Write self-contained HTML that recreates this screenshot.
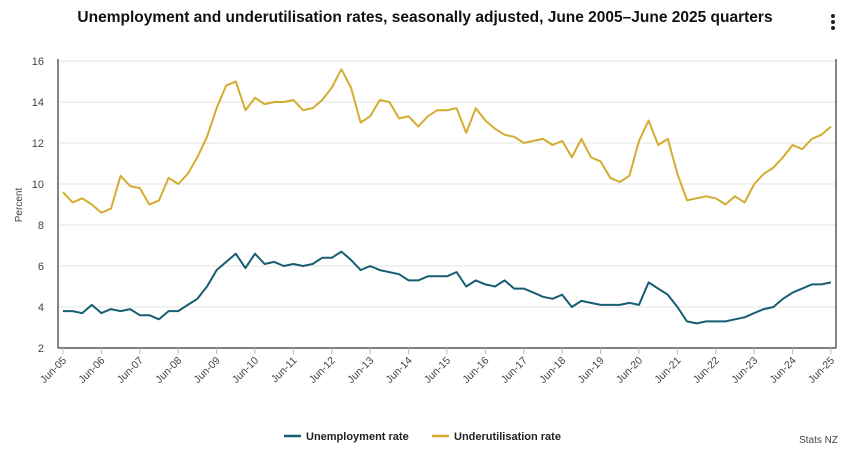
<!DOCTYPE html>
<html><head><meta charset="utf-8"><style>
body{margin:0;width:847px;height:450px;background:#fff;font-family:"Liberation Sans",sans-serif;overflow:hidden}
svg{display:block}
</style></head><body>
<svg id="c" width="847" height="450">
<text x="425" y="22" text-anchor="middle" font-size="15.5" font-weight="bold" fill="#111">Unemployment and underutilisation rates, seasonally adjusted, June 2005–June 2025 quarters</text>
<g><circle cx="833" cy="16" r="2" fill="#222"/><circle cx="833" cy="22" r="2" fill="#222"/><circle cx="833" cy="28" r="2" fill="#222"/></g>
<text transform="translate(22,205) rotate(-90)" text-anchor="middle" font-size="10" fill="#444">Percent</text>
<text x="838" y="443" text-anchor="end" font-size="10" fill="#444">Stats NZ</text>
<g id="plot"></g>
</svg>
<script>
const yTicks=[2,4,6,8,10,12,14,16];
const xLabels=["Jun-05","Jun-06","Jun-07","Jun-08","Jun-09","Jun-10","Jun-11","Jun-12","Jun-13","Jun-14","Jun-15","Jun-16","Jun-17","Jun-18","Jun-19","Jun-20","Jun-21","Jun-22","Jun-23","Jun-24","Jun-25"];
const unemployment=[3.8,3.8,3.7,4.1,3.7,3.9,3.8,3.9,3.6,3.6,3.4,3.8,3.8,4.1,4.4,5.0,5.8,6.2,6.6,5.9,6.6,6.1,6.2,6.0,6.1,6.0,6.1,6.4,6.4,6.7,6.3,5.8,6.0,5.8,5.7,5.6,5.3,5.3,5.5,5.5,5.5,5.7,5.0,5.3,5.1,5.0,5.3,4.9,4.9,4.7,4.5,4.4,4.6,4.0,4.3,4.2,4.1,4.1,4.1,4.2,4.1,5.2,4.9,4.6,4.0,3.3,3.2,3.3,3.3,3.3,3.4,3.5,3.7,3.9,4.0,4.4,4.7,4.9,5.1,5.1,5.2];
const underutilisation=[9.6,9.1,9.3,9.0,8.6,8.8,10.4,9.9,9.8,9.0,9.2,10.3,10.0,10.5,11.3,12.3,13.7,14.8,15.0,13.6,14.2,13.9,14.0,14.0,14.1,13.6,13.7,14.1,14.7,15.6,14.7,13.0,13.3,14.1,14.0,13.2,13.3,12.8,13.3,13.6,13.6,13.7,12.5,13.7,13.1,12.7,12.4,12.3,12.0,12.1,12.2,11.9,12.1,11.3,12.2,11.3,11.1,10.3,10.1,10.4,12.1,13.1,11.9,12.2,10.5,9.2,9.3,9.4,9.3,9.0,9.4,9.1,10.0,10.5,10.8,11.3,11.9,11.7,12.2,12.4,12.8];
const NS="http://www.w3.org/2000/svg";
const L=58,R=836,T=61,B=348,X0=63,X1=831;
const nQ=unemployment.length-1;
const x=i=>X0+(X1-X0)*i/nQ;
const y=v=>B-(v-2)/(16-2)*(B-T);
const g=document.getElementById('plot');
function mk(t,a){const e=document.createElementNS(NS,t);for(const k in a)e.setAttribute(k,a[k]);g.appendChild(e);return e;}
yTicks.forEach(v=>{
  if(v>2){const ln=mk('line',{x1:L,x2:R,y1:y(v),y2:y(v),stroke:'#e3e3e3','stroke-width':1});
  
  }
  const t=mk('text',{x:L-14,y:y(v)+4,'text-anchor':'end','font-size':11,fill:'#444'});t.textContent=v;
  
  
});
const rb=mk('line',{x1:R,x2:R,y1:T-2,y2:B,stroke:'#333','stroke-width':1.2});


const ya=mk('line',{x1:L,x2:L,y1:T-2,y2:B,stroke:'#333','stroke-width':1.2});


const xa=mk('line',{x1:L,x2:R,y1:B,y2:B,stroke:'#333','stroke-width':1.2});


xLabels.forEach((lab,k)=>{
  const xx=x(k*4);
  const tk=mk('line',{x1:xx,x2:xx,y1:B,y2:B+6,stroke:'#bbb'});
  
  
  const t=mk('text',{x:0,y:0,'text-anchor':'end','font-size':10.5,fill:'#444',transform:`translate(${xx+4},${B+13}) rotate(-45)`});
  t.textContent=lab;
  
  
});
function line(data,col,name){
  const p=mk('polyline',{points:data.map((v,i)=>x(i).toFixed(1)+','+y(v).toFixed(1)).join(' '),fill:'none',stroke:col,'stroke-width':2,'stroke-linejoin':'round'});
  
  
}
line(underutilisation,'#d4ac2f','underutilisation-line');
line(unemployment,'#185e72','unemployment-line');
function legend(lx,col,txt,name){
  const s=mk('line',{x1:lx,x2:lx+17,y1:436,y2:436,stroke:col,'stroke-width':2.5});
  
  
  const t=mk('text',{x:lx+22,y:440,'font-size':11,'font-weight':'bold',fill:'#222'});t.textContent=txt;
  
  
}
legend(284,'#185e72','Unemployment rate','legend-entry-unemployment');
legend(432,'#d4ac2f','Underutilisation rate','legend-entry-underutilisation');
</script>
</body></html>
